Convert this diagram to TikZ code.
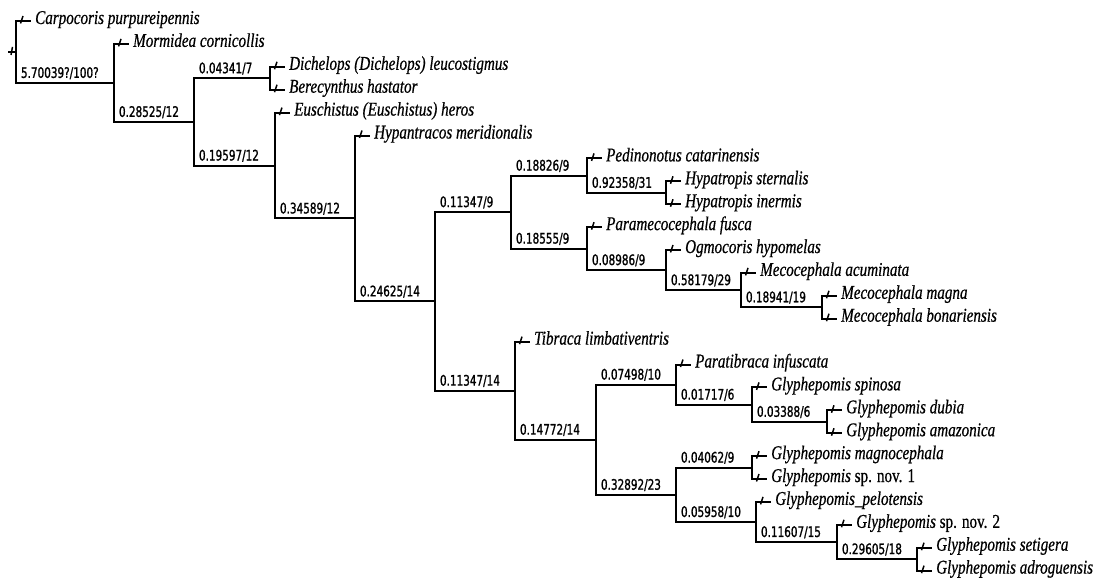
\documentclass[tikz,border=0pt]{standalone}
\usepackage{fontspec}
\newfontfamily\leaffont[FakeStretch=0.775,FakeBold=0.6]{Liberation Serif Italic}
\newfontfamily\leafup[FakeStretch=0.775,FakeBold=0.6]{Liberation Serif}
\newfontfamily\labfont[FakeStretch=0.72,FakeBold=1.2]{DejaVu Sans}
\newcommand\upr[1]{{\leafup #1}}
\tikzset{
  branch/.style={line width=2pt, line join=miter},
  tickmark/.style={line width=1.5pt},
  leaf/.style={anchor=base west, inner sep=0pt, font=\leaffont\fontsize{19.5}{19.5}\selectfont},
  blab/.style={anchor=base west, inner sep=0pt, font=\labfont\fontsize{14.5}{14.5}\selectfont, xshift=4pt, yshift=5pt},
}
\newcommand\leafnode[5]{%
  \coordinate (#1) at (#3,#4);
  \draw[branch] (#2) |- (#1);
  \draw[tickmark] ([xshift=-8pt,yshift=5pt]#1) -- ([xshift=-10.5pt,yshift=-2.5pt]#1);
  \node[leaf] (t#1) at ([xshift=4pt,yshift=-3pt]#1) {#5};
}
\newcommand\cladeedge[3]{%
  \draw[branch] (#1) |- (#2) node[pos=0.5, blab] (lab#2) {#3};
}
\begin{document}
\begin{tikzpicture}[x=1pt,y=-1pt]
\useasboundingbox[fill=white] (0,0) rectangle (1099,578);
% internal nodes
\coordinate (R0) at (8,51.95);
\coordinate (R) at (16,51.95);
\coordinate (A) at (114,82.89);
\coordinate (B) at (194,121.88);
\coordinate (C) at (270,78.25);
\coordinate (E) at (275,165.51);
\coordinate (H) at (355,218.42);
\coordinate (K) at (435,301.35);
\coordinate (U) at (511,212.07);
\coordinate (P1) at (587,175.575);
\coordinate (Hy) at (666,192.75);
\coordinate (P2) at (587,248.57);
\coordinate (O) at (666,270.04);
\coordinate (M) at (741,290.075);
\coordinate (MM) at (822,307.25);
\coordinate (L) at (515,390.62);
\coordinate (T) at (596,439.64);
\coordinate (G1) at (676,384.54);
\coordinate (S) at (752,404.575);
\coordinate (D) at (827,421.75);
\coordinate (G2) at (676,494.74);
\coordinate (N1) at (752,467.55);
\coordinate (N2) at (756,521.94);
\coordinate (N3) at (837,541.975);
\coordinate (N4) at (917,559.15);
% root stub
\draw[branch] (R0) -- (R);
\draw[tickmark] ([xshift=4.5pt,yshift=5pt]R0) -- ([xshift=3pt,yshift=-3pt]R0);
% internal edges
\cladeedge{R}{A}{5.70039?/100?}
\cladeedge{A}{B}{0.28525/12}
\cladeedge{B}{C}{0.04341/7}
\cladeedge{B}{E}{0.19597/12}
\cladeedge{E}{H}{0.34589/12}
\cladeedge{H}{K}{0.24625/14}
\cladeedge{K}{U}{0.11347/9}
\cladeedge{K}{L}{0.11347/14}
\cladeedge{U}{P1}{0.18826/9}
\cladeedge{U}{P2}{0.18555/9}
\cladeedge{P1}{Hy}{0.92358/31}
\cladeedge{P2}{O}{0.08986/9}
\cladeedge{O}{M}{0.58179/29}
\cladeedge{M}{MM}{0.18941/19}
\cladeedge{L}{T}{0.14772/14}
\cladeedge{T}{G1}{0.07498/10}
\cladeedge{T}{G2}{0.32892/23}
\cladeedge{G1}{S}{0.01717/6}
\cladeedge{S}{D}{0.03388/6}
\cladeedge{G2}{N1}{0.04062/9}
\cladeedge{G2}{N2}{0.05958/10}
\cladeedge{N2}{N3}{0.11607/15}
\cladeedge{N3}{N4}{0.29605/18}
% leaves
\leafnode{l0}{R}{31}{21}{Carpocoris purpureipennis}
\leafnode{l1}{A}{129}{43.9}{Mormidea cornicollis}
\leafnode{l2}{C}{285}{66.8}{Dichelops (Dichelops) leucostigmus}
\leafnode{l3}{C}{285}{89.7}{Berecynthus hastator}
\leafnode{l4}{E}{290}{112.6}{Euschistus (Euschistus) heros}
\leafnode{l5}{H}{370}{135.5}{Hypantracos meridionalis}
\leafnode{l6}{P1}{602}{158.4}{Pedinonotus catarinensis}
\leafnode{l7}{Hy}{681}{181.3}{Hypatropis sternalis}
\leafnode{l8}{Hy}{681}{204.2}{Hypatropis inermis}
\leafnode{l9}{P2}{602}{227.1}{Paramecocephala fusca}
\leafnode{l10}{O}{681}{250.0}{Ogmocoris hypomelas}
\leafnode{l11}{M}{756}{272.9}{Mecocephala acuminata}
\leafnode{l12}{MM}{837}{295.8}{Mecocephala magna}
\leafnode{l13}{MM}{837}{318.7}{Mecocephala bonariensis}
\leafnode{l14}{L}{530}{341.6}{Tibraca limbativentris}
\leafnode{l15}{G1}{691}{364.5}{Paratibraca infuscata}
\leafnode{l16}{S}{767}{387.4}{Glyphepomis spinosa}
\leafnode{l17}{D}{842}{410.3}{Glyphepomis dubia}
\leafnode{l18}{D}{842}{433.2}{Glyphepomis amazonica}
\leafnode{l19}{N1}{767}{456.1}{Glyphepomis magnocephala}
\leafnode{l20}{N1}{767}{479.0}{Glyphepomis \upr{sp. nov. 1}}
\leafnode{l21}{N2}{771}{501.9}{Glyphepomis\_pelotensis}
\leafnode{l22}{N3}{852}{524.8}{Glyphepomis \upr{sp. nov. 2}}
\leafnode{l23}{N4}{932}{547.7}{Glyphepomis setigera}
\leafnode{l24}{N4}{932}{570.6}{Glyphepomis adroguensis}
\end{tikzpicture}
\end{document}
